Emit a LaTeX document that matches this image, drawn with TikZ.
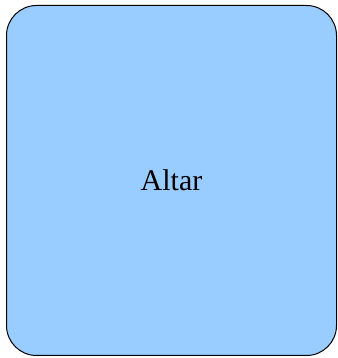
\documentclass[tikz,border=0pt]{standalone}
\usepackage{fontspec}
\setmainfont{Liberation Serif}
\definecolor{altarblue}{HTML}{99CCFF}

\begin{document}
\begin{tikzpicture}[
  x=1pt,
  y=1pt,
  roombox/.style={
    draw,
    fill=altarblue,
    rectangle,
    rounded corners=30pt,
    align=center,
    line width=1pt,
    inner sep=0pt,
    minimum width=330pt,
    minimum height=350pt,
    font=\fontsize{30}{36}\selectfont
  }
]

% Fixed page size.
\useasboundingbox (0,0) rectangle (337,358);

% The altar area.
\node[roombox] (altar) at (171.5,177.5) {Altar};

\end{tikzpicture}
\end{document}
